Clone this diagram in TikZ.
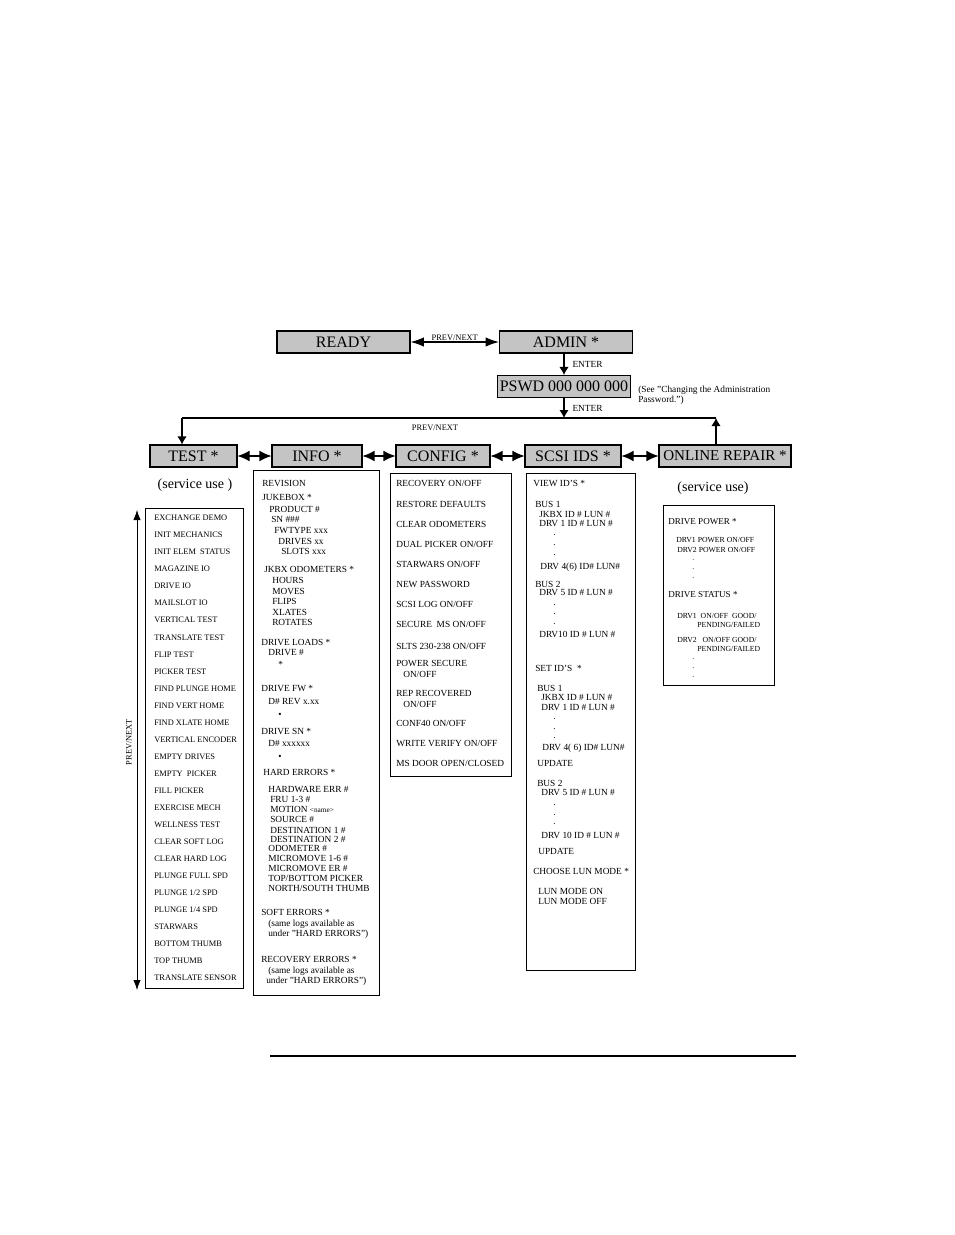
\documentclass[tikz,border=0pt]{standalone}
\usepackage{fontspec}
\setmainfont{Liberation Serif}
\usetikzlibrary{arrows.meta,positioning}
\definecolor{PanelGray}{RGB}{196,196,196}
\newcommand{\hdrfont}{\fontsize{12}{14}\selectfont}
\newcommand{\itemfont}{\fontsize{7}{8}\selectfont}
\newcommand{\testfont}{\fontsize{6.3}{7}\selectfont}
\newcommand{\smallfont}{\fontsize{5.8}{6.5}\selectfont}
\newcommand{\notefont}{\fontsize{10.5}{12}\selectfont}
\tikzset{
  panel/.style={draw,line width=0.8pt,fill=PanelGray,inner sep=0pt,
    minimum height=16.5pt,font=\hdrfont},
  listbox/.style={draw,line width=0.6pt},
  entry/.style={anchor=west,inner sep=0pt,font=\itemfont},
  biarrow/.style={{Latex[length=9pt,width=8pt]}-{Latex[length=9pt,width=8pt]},line width=0.8pt},
  wideboth/.style={{Latex[length=10pt,width=7pt]}-{Latex[length=10pt,width=7pt]},line width=0.8pt},
  flow/.style={-{Latex[length=6pt,width=7pt]},line width=0.8pt},
  scroll/.style={{Latex[length=7.5pt,width=5.5pt]}-{Latex[length=7.5pt,width=5.5pt]},line width=0.6pt},
  tag/.style={inner sep=1pt,font=\testfont}
}
\begin{document}
\begin{tikzpicture}[x=0.75pt,y=-0.75pt]
  \useasboundingbox (0,0) rectangle (954,1235);
  % top chain
  \node[panel,minimum width=99.75pt] (ready) at (343.5,342) {READY};
  \node[panel,minimum width=99.75pt] (admin) at (566,342) {ADMIN *};
  \node[panel,minimum width=99.75pt] (pswd) at (564,386.5) {PSWD 000 000 000};
  \node[anchor=west,inner sep=0pt,align=left,font=\fontsize{7}{7.5}\selectfont]
    (pswdNote) at (638,395) {(See "Changing the Administration\\Password.")};
  \draw[wideboth] (ready) -- (admin)
    node[midway,above,tag,inner sep=0.3pt] (readyTag) {PREV/NEXT};
  \draw[flow] (pswd.north |- admin.south) -- (pswd.north)
    node[midway,right=5pt,tag,font=\itemfont] (enterA) {ENTER};
  % menu row
  \node[panel,minimum width=65.25pt] (test) at (193.5,456) {TEST *};
  \node[panel,minimum width=67.5pt] (info) at (317,456) {INFO *};
  \node[panel,minimum width=70.5pt] (config) at (443,456) {CONFIG *};
  \node[panel,minimum width=72pt] (scsi) at (573,456) {SCSI IDS *};
  \node[panel,minimum width=99pt,font=\fontsize{11.3}{13}\selectfont]
    (online) at (725,456) {ONLINE REPAIR *};
  \coordinate (topL) at (182,418);
  \coordinate (topR) at (716,418);
  \coordinate (enterJ) at (564,418);
  \draw[flow] (pswd.south) -- (enterJ)
    node[midway,right=5pt,tag,font=\itemfont] (enterB) {ENTER};
  \draw[line width=0.8pt] (topL) -- (topR);
  \node[tag] (rowTag) at (435,428) {PREV/NEXT};
  \draw[flow] (topL) -- (topL |- test.north);
  \draw[flow] (topR |- online.north) -- (topR);
  \draw[biarrow] (test) -- (info);
  \draw[biarrow] (info) -- (config);
  \draw[biarrow] (config) -- (scsi);
  \draw[biarrow] (scsi) -- (online);
  \node[font=\notefont] (testNote) at (195,485) {(service use )};
  \node[font=\notefont] (repairNote) at (713,488) {(service use)};
  % test list
  \draw[listbox] (145,508) rectangle (243,988);
  \coordinate (scrollTop) at (137,510);
  \coordinate (scrollBot) at (137,990);
  \draw[scroll] (scrollTop) -- (scrollBot);
  \node[tag,rotate=90] (scrollTag) at (129,742) {PREV/NEXT};
  \foreach \txt [count=\i] in {EXCHANGE DEMO,INIT MECHANICS,INIT ELEM\ \ STATUS,
      MAGAZINE IO,DRIVE IO,MAILSLOT IO,VERTICAL TEST,TRANSLATE TEST,FLIP TEST,
      PICKER TEST,FIND PLUNGE HOME,FIND VERT HOME,FIND XLATE HOME,
      VERTICAL ENCODER,EMPTY DRIVES,EMPTY\ \ PICKER,FILL PICKER,EXERCISE MECH,
      WELLNESS TEST,CLEAR SOFT LOG,CLEAR HARD LOG,PLUNGE FULL SPD,
      PLUNGE 1/2 SPD,PLUNGE 1/4 SPD,STARWARS,BOTTOM THUMB,TOP THUMB,
      TRANSLATE SENSOR}
    \node[entry,font=\testfont] (test\i) at (154,{518+17.04*(\i-1)}) {\txt};
  % info list
  \draw[listbox] (253,470) rectangle (379,995);
  \foreach \x/\y/\txt [count=\i] in {262/483/REVISION,262/497/JUKEBOX *,
      269/509/PRODUCT \#,271/519/SN \#\#\#,274/531/FWTYPE xxx,
      278/541/DRIVES xx,281/551/SLOTS xxx,264/569/JKBX ODOMETERS *,
      272/580/HOURS,272/591/MOVES,272/601/FLIPS,272/612/XLATES,
      272/622/ROTATES,261/642/DRIVE LOADS *,268/653/DRIVE \#,278/664/*,
      261/689/DRIVE FW *,268/702/D\# REV x.xx,278/715/\textbullet,
      261/731/DRIVE SN *,268/743/D\# xxxxxx,278/757/\textbullet,
      263/772/HARD ERRORS *,268/789/HARDWARE ERR \#,270/799/FRU 1-3 \#,
      270/809/MOTION {\fontsize{5.5}{6}\selectfont<name>},270/819/SOURCE \#,
      270/830/DESTINATION 1 \#,270/839/DESTINATION 2 \#,268/848/ODOMETER \#,
      268/858/MICROMOVE 1-6 \#,268/868/MICROMOVE ER \#,
      268/878/{TOP/BOTTOM PICKER},268/888/{NORTH/SOUTH THUMB},
      261/912/SOFT ERRORS *,268/924/(same logs available as,
      268/934/under "HARD ERRORS"),261/959/RECOVERY ERRORS *,
      268/971/(same logs available as,266/981/under "HARD ERRORS")}
    \node[entry] (info\i) at (\x,\y) {\txt};
  % config list
  \draw[listbox] (390,473) rectangle (511,776);
  \foreach \x/\y/\txt [count=\i] in {396/483/{RECOVERY ON/OFF},
      396/504/RESTORE DEFAULTS,396/524/CLEAR ODOMETERS,
      396/544/{DUAL PICKER ON/OFF},396/564/{STARWARS ON/OFF},
      396/584/NEW PASSWORD,396/604/{SCSI LOG ON/OFF},
      396/624/{SECURE\ \ MS ON/OFF},396/646/{SLTS 230-238 ON/OFF},
      396/663/POWER SECURE,403/674/{ON/OFF},396/693/REP RECOVERED,
      403/704/{ON/OFF},396/723/{CONF40 ON/OFF},396/743/{WRITE VERIFY ON/OFF},
      396/763/{MS DOOR OPEN/CLOSED}}
    \node[entry] (config\i) at (\x,\y) {\txt};
  % scsi list
  \draw[listbox] (526,473) rectangle (635,970);
  \foreach \x/\y/\txt [count=\i] in {533/483/VIEW ID'S *,535/504/BUS 1,
      539/514/JKBX ID \# LUN \#,539/523/DRV 1 ID \# LUN \#,553/535/.,
      553/545/.,553/555/.,540/567/DRV 4(6) ID\# LUN\#,535/584/BUS 2,
      539/593/DRV 5 ID \# LUN \#,553/605/.,553/614/.,553/624/.,
      539/634/DRV10 ID \# LUN \#,535/668/SET ID'S\ \ *,537/688/BUS 1,
      541/697/JKBX ID \# LUN \#,541/707/DRV 1 ID \# LUN \#,553/719/.,
      553/729/.,553/738/.,542/748/DRV 4( 6) ID\# LUN\#,537/763/UPDATE,
      537/783/BUS 2,541/793/DRV 5 ID \# LUN \#,553/805/.,553/815/.,
      553/824/.,541/835/DRV 10 ID \# LUN \#,538/851/UPDATE,
      533/871/CHOOSE LUN MODE *,538/891/LUN MODE ON,538/901/LUN MODE OFF}
    \node[entry] (scsi\i) at (\x,\y) {\txt};
  % online repair list
  \draw[listbox] (663,505) rectangle (774,685);
  \foreach \x/\y/\txt [count=\i] in {668/522/{\fontsize{6.8}{7}\selectfont DRIVE POWER *},
      676/540/{DRV1 POWER ON/OFF},677/550/{DRV2 POWER ON/OFF},692/560/.,
      692/569/.,692/578/.,668/595/{\fontsize{6.8}{7}\selectfont DRIVE STATUS *},
      677/616/{DRV1\ \ ON/OFF\ \ GOOD/},697/625/{PENDING/FAILED},
      677/640/{DRV2\ \ \ ON/OFF GOOD/},697/649/{PENDING/FAILED},692/659/.,
      692/668/.,692/677/.}
    \node[entry,font=\smallfont] (repair\i) at (\x,\y) {\txt};
  % bottom rule
  \draw[line width=1.5pt] (270,1056) -- (796,1056);
\end{tikzpicture}
\end{document}
